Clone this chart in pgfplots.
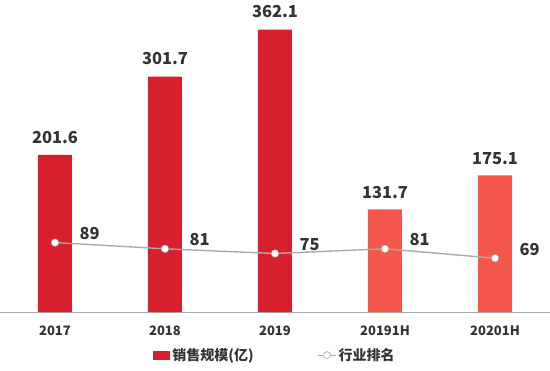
\documentclass[border=0pt]{standalone}
\usepackage{pgfplots}
\pgfplotsset{compat=1.18}
\usepackage{fontspec}
\setmainfont{Noto Sans CJK SC}
\definecolor{darkred}{HTML}{D71F2E}
\definecolor{coral}{HTML}{F4574B}
\definecolor{txt}{HTML}{333333}
\definecolor{lgray}{HTML}{AAAAAA}
\begin{document}
\begin{tikzpicture}
\path[use as bounding box] (0,-59bp) rectangle (550bp,312bp);
\begin{axis}[
  at={(0,0)}, anchor=south west,
  width=550bp, height=312bp, scale only axis,
  xmin=-0.5, xmax=4.5, ymin=0, ymax=400,
  axis y line=none,
  axis x line*=bottom,
  x axis line style={draw=lgray, line width=0.8pt, -},
  xtick={0,1,2,3,4},
  xticklabels={2017,2018,2019,20191H,20201H},
  x tick label style={font=\bfseries\fontsize{13bp}{15bp}\selectfont, text=txt, yshift=-10bp},
  major tick length=0pt,
  /pgf/number format/assume math mode=true,
  legend style={at={(0.5,-0.138)}, anchor=center, draw=none, fill=none,
    legend columns=2, font=\bfseries\fontsize{14bp}{16bp}\selectfont, text=txt,
    /tikz/every even column/.append style={column sep=62bp}},
  legend cell align=left,
  clip=false,
]
\addplot[ybar, bar width=34bp, bar shift=0pt, fill=darkred, draw=none,
  legend image code/.code={\fill[darkred] (0bp,-4.5bp) rectangle (17bp,4.5bp);},
  nodes near coords, nodes near coords style={font=\bfseries\fontsize{16.5bp}{18bp}\selectfont, text=txt, yshift=8bp, /pgf/number format/.cd, fixed, fixed zerofill, precision=1}]
  coordinates {(0,201.6) (1,301.7) (2,362.1)};
\addlegendentry{销售规模(亿)}
\addplot[ybar, bar width=34bp, bar shift=0pt, fill=coral, draw=none, forget plot,
  nodes near coords, nodes near coords style={font=\bfseries\fontsize{16.5bp}{18bp}\selectfont, text=txt, yshift=7bp, /pgf/number format/.cd, fixed, fixed zerofill, precision=1}]
  coordinates {(3,131.7) (4,175.1)};
\addplot[lgray, line width=1.4pt, mark=*, mark size=3.8bp, mark options={fill=white, draw=lgray, line width=0.5pt},
  legend image code/.code={\draw[lgray, line width=1pt] (0bp,0bp) -- (18bp,0bp); \draw[lgray, fill=white, line width=0.6pt] (9bp,0bp) circle (3.5bp);},
  nodes near coords, point meta=explicit symbolic,
  nodes near coords style={font=\bfseries\fontsize{16.5bp}{18bp}\selectfont, text=txt, anchor=west, xshift=21bp, yshift=9bp}]
  coordinates {(0,89)[89] (1,81)[81] (2,75)[75] (3,81)[81] (4,69)[69]};
\addlegendentry{行业排名}
\end{axis}
\end{tikzpicture}
\end{document}
